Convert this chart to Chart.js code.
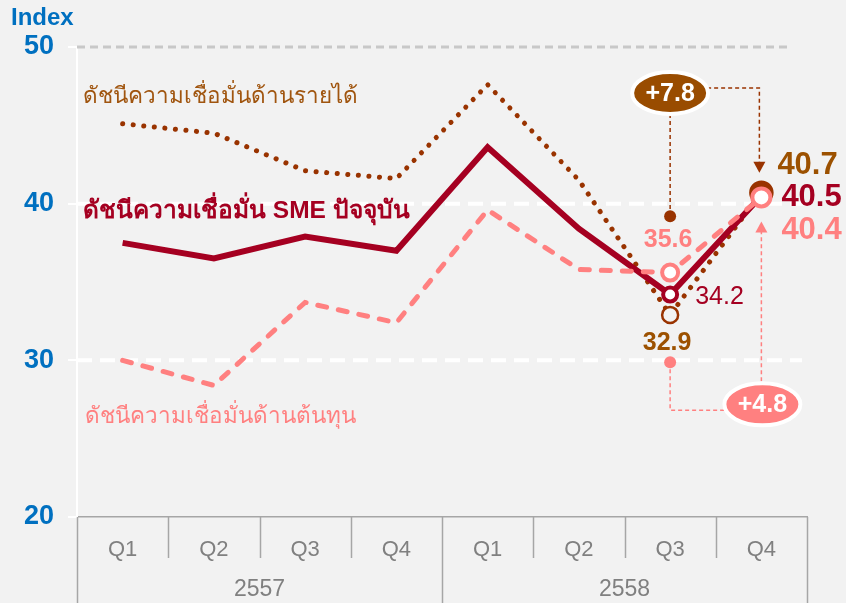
<!DOCTYPE html>
<html>
<head>
<meta charset="utf-8">
<script src="https://cdn.jsdelivr.net/npm/chart.js@4.4.1/dist/chart.umd.min.js"></script>
<style>
  html, body { margin: 0; padding: 0; background: #F2F2F2; }
  #wrap { width: 846px; height: 603px; position: relative; }
</style>
</head>
<body>
<div id="wrap"><canvas id="c"></canvas></div>
<script>
// data
const quarters = ['Q1', 'Q2', 'Q3', 'Q4', 'Q1', 'Q2', 'Q3', 'Q4'];
const years    = ['2557', '2558'];
const sme      = [37.5, 36.5, 37.9, 37.0, 43.6, 38.4, 34.2, 40.5];
const income   = [45.1, 44.5, 42.1, 41.6, 47.6, 41.5, 32.9, 40.7];
const cost     = [30.0, 28.4, 33.7, 32.4, 39.6, 35.8, 35.6, 40.4];
const yTicks   = [20, 30, 40, 50];
const seriesNames = ['ดัชนีความเชื่อมั่นด้านรายได้', 'ดัชนีความเชื่อมั่น SME ปัจจุบัน', 'ดัชนีความเชื่อมั่นด้านต้นทุน'];
const changes  = ['+7.8', '+4.8'];
const changeDots = [39.2, 30.0];

const DARKRED = '#A50021', BROWN = '#993300', BROWNTXT = '#9C5100', PINK = '#FF8080', BLUE = '#0070C0';
const FONT = '"Liberation Sans", Arial, "Noto Sans", sans-serif';

// only Q3/Q4 2558 get a marker
const lastTwo = arr => arr.map((v, i) => i >= 6 ? v : null);

const overlay = {
  id: 'overlay',
  beforeDatasetsDraw(ch) {
    const c = ch.ctx, xs = ch.scales.x, ys = ch.scales.y;
    c.save();
    // horizontal grid
    [[50, '#C8C8C8', 3, [8, 5], xs.right - 17], [40, '#FFFFFF', 4, [15, 8], xs.right], [30, '#FFFFFF', 4, [15, 8], xs.right - 5]].forEach(g => {
      const y = ys.getPixelForValue(g[0]);
      c.strokeStyle = g[1]; c.lineWidth = g[2]; c.setLineDash(g[3]);
      c.beginPath(); c.moveTo(xs.left, y); c.lineTo(g[4], y); c.stroke();
    });
    c.setLineDash([]);
    // series names
    c.textBaseline = 'middle'; c.textAlign = 'left';
    c.font = '22.5px ' + FONT; c.fillStyle = '#A0550F';
    c.fillText(seriesNames[0], xs.left + 6, ys.getPixelForValue(46.8));
    c.font = 'bold 24.5px ' + FONT; c.fillStyle = DARKRED;
    c.fillText(seriesNames[1], xs.left + 6, ys.getPixelForValue(39.5));
    c.font = '22.5px ' + FONT; c.fillStyle = PINK;
    c.fillText(seriesNames[2], xs.left + 8, ys.getPixelForValue(26.4));
    c.restore();
  },
  afterDatasetsDraw(ch) {
    const c = ch.ctx, xs = ch.scales.x, ys = ch.scales.y;
    const x6 = xs.getPixelForValue(6), x7 = xs.getPixelForValue(7);
    c.save();

    // value labels
    c.textBaseline = 'middle';
    c.font = 'bold 31px ' + FONT;
    c.textAlign = 'left';
    c.fillStyle = BROWNTXT; c.fillText(income[7].toFixed(1), x7 + 16, ys.getPixelForValue(income[7]) - 27);
    c.fillStyle = DARKRED;  c.fillText(sme[7].toFixed(1),    x7 + 20, ys.getPixelForValue(sme[7]) + 2);
    c.fillStyle = PINK;     c.fillText(cost[7].toFixed(1),   x7 + 20, ys.getPixelForValue(cost[7]) + 33);
    c.font = 'bold 25px ' + FONT;
    c.textAlign = 'center';
    c.fillStyle = PINK;     c.fillText(cost[6].toFixed(1),   x6 - 2, ys.getPixelForValue(cost[6]) - 32);
    c.fillStyle = BROWNTXT; c.fillText(income[6].toFixed(1), x6 - 3, ys.getPixelForValue(income[6]) + 28);
    c.font = '25px ' + FONT;
    c.textAlign = 'left';
    c.fillStyle = DARKRED;  c.fillText(sme[6].toFixed(1),    x6 + 25, ys.getPixelForValue(sme[6]) + 3);

    // brown change annotation
    const ebY = ys.getPixelForValue(50) + 46, dB = ys.getPixelForValue(changeDots[0]);
    const tipB = ys.getPixelForValue(income[7]) - 20;
    c.strokeStyle = BROWN; c.lineWidth = 1.5; c.setLineDash([4, 3]);
    c.beginPath(); c.moveTo(x6, ebY); c.lineTo(x6, dB); c.stroke();
    c.beginPath(); c.moveTo(x6 + 30, ebY - 5); c.lineTo(x7 - 2, ebY - 5); c.lineTo(x7 - 2, tipB - 10); c.stroke();
    c.setLineDash([]);
    c.fillStyle = BROWN;
    c.beginPath(); c.moveTo(x7 - 8, tipB - 11); c.lineTo(x7 + 4, tipB - 11); c.lineTo(x7 - 2, tipB); c.closePath(); c.fill();
    c.beginPath(); c.arc(x6, dB, 6, 0, Math.PI * 2); c.fill();

    // pink change annotation
    const epY = ys.getPixelForValue(30) + 42, dP = ys.getPixelForValue(changeDots[1]) + 2;
    const tipP = ys.getPixelForValue(cost[7]) + 24;
    c.strokeStyle = PINK; c.setLineDash([4, 3]);
    c.beginPath(); c.moveTo(x6, dP); c.lineTo(x6, epY + 8); c.lineTo(x7 - 20, epY + 8); c.stroke();
    c.beginPath(); c.moveTo(x7, epY); c.lineTo(x7, tipP + 10); c.stroke();
    c.setLineDash([]);
    c.fillStyle = PINK;
    c.beginPath(); c.moveTo(x7 - 6, tipP + 11); c.lineTo(x7 + 6, tipP + 11); c.lineTo(x7, tipP); c.closePath(); c.fill();
    c.beginPath(); c.arc(x6, dP, 6, 0, Math.PI * 2); c.fill();

    // ellipses
    [[x6, ebY, '#994C00', changes[0]], [x7 + 1, epY + 2, PINK, changes[1]]].forEach(e => {
      c.beginPath(); c.ellipse(e[0], e[1], 38, 21, 0, 0, Math.PI * 2);
      c.fillStyle = e[2]; c.fill();
      c.strokeStyle = '#FFFFFF'; c.lineWidth = 4; c.stroke();
      c.fillStyle = '#FFFFFF'; c.font = 'bold 25px ' + FONT; c.textAlign = 'center'; c.textBaseline = 'middle';
      c.fillText(e[3], e[0], e[1] + 1);
    });

    // category dividers and year labels
    c.strokeStyle = '#A6A6A6'; c.lineWidth = 1.5;
    for (let i = 0; i <= quarters.length; i++) {
      const x = Math.round(xs.getPixelForValue(i - 0.5)) + 0.5;
      c.beginPath(); c.moveTo(x, xs.top); c.lineTo(x, i % 4 === 0 ? ch.height : xs.top + 41); c.stroke();
    }
    c.fillStyle = '#808080'; c.font = '23px ' + FONT; c.textAlign = 'center'; c.textBaseline = 'middle';
    years.forEach((yr, k) => {
      const xm = (xs.getPixelForValue(k * 4 - 0.5) + xs.getPixelForValue(k * 4 + 3.5)) / 2;
      c.fillText(yr, xm, xs.top + 73);
    });

    // axis title
    c.fillStyle = BLUE; c.font = 'bold 24px ' + FONT; c.textAlign = 'left';
    c.fillText('Index', 11, 18);
    c.restore();
  }
};

new Chart(document.getElementById('c'), {
  type: 'line',
  data: {
    labels: quarters,
    datasets: [
      { data: lastTwo(cost), showLine: false, order: 0,
        pointRadius: ctx => ctx.dataIndex === 7 ? 9 : 8, pointBorderWidth: 4,
        pointBorderColor: PINK, pointBackgroundColor: '#FFFFFF' },
      { data: lastTwo(sme), showLine: false, order: 1,
        pointRadius: 7, pointBorderWidth: 4,
        pointBorderColor: DARKRED, pointBackgroundColor: '#FFFFFF' },
      { data: lastTwo(income), showLine: false, order: 2,
        pointRadius: ctx => ctx.dataIndex === 7 ? 11 : 8, pointBorderWidth: 2.5,
        pointBorderColor: BROWN, pointBackgroundColor: ctx => ctx.dataIndex === 7 ? BROWN : '#F2F2F2' },
      { label: seriesNames[2], data: cost, order: 3, borderColor: PINK, borderWidth: 5,
        borderDash: [9, 12], borderCapStyle: 'round', pointRadius: 0, tension: 0 },
      { label: seriesNames[1], data: sme, order: 4, borderColor: DARKRED, borderWidth: 6,
        borderJoinStyle: 'miter', pointRadius: 0, tension: 0 },
      { label: seriesNames[0], data: income, order: 5, borderColor: BROWN, borderWidth: 5,
        borderDash: [0.1, 10.5], borderCapStyle: 'round', pointRadius: 0, tension: 0 }
    ]
  },
  options: {
    responsive: true, maintainAspectRatio: false,
    animation: false,
    layout: { padding: { top: 47, right: 39, bottom: 0, left: 0 } },
    plugins: { legend: { display: false }, tooltip: { enabled: false } },
    scales: {
      x: {
        offset: true,
        grid: { display: false },
        border: { color: '#A6A6A6', width: 1.5 },
        ticks: { color: '#808080', font: { family: FONT, size: 22 }, padding: 12, maxRotation: 0 },
        afterFit: s => { s.height = 86; }
      },
      y: {
        min: 20, max: 50,
        afterBuildTicks: s => { s.ticks = yTicks.map(v => ({ value: v })); },
        grid: { drawOnChartArea: false, color: '#FFFFFF', tickLength: 9, lineWidth: 2 },
        border: { color: '#FFFFFF', width: 2 },
        ticks: { color: BLUE, font: { family: FONT, size: 27, weight: 'bold' }, padding: 14 },
        afterFit: s => { s.width = 77; }
      }
    }
  },
  plugins: [overlay]
});
</script>
</body>
</html>
